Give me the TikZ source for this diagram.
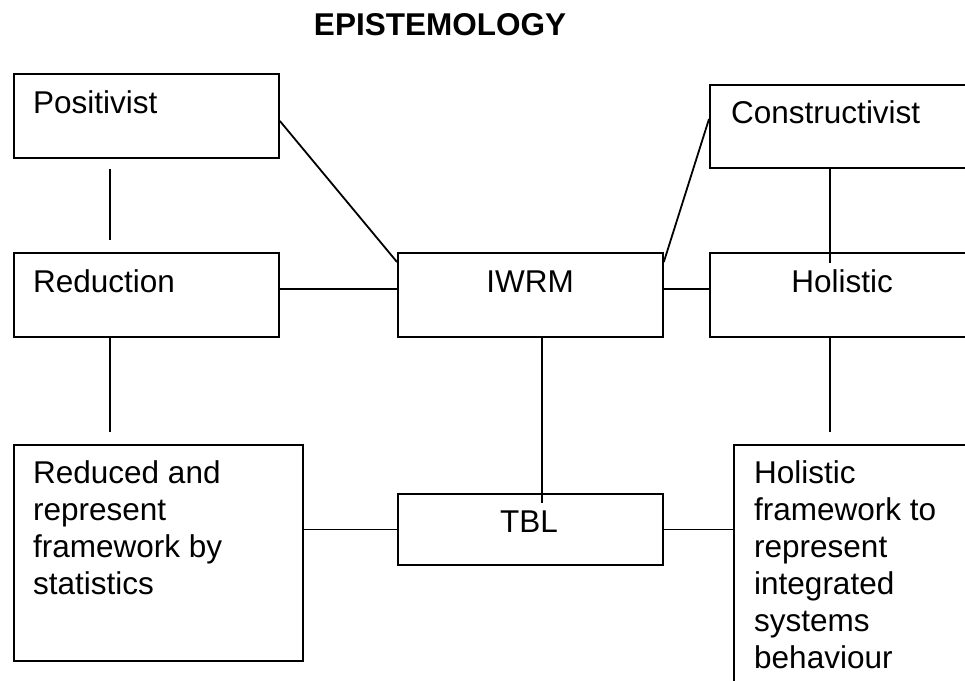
\documentclass[tikz,border=0pt]{standalone}
\usepackage{fontspec}
\setmainfont{Liberation Sans}
\begin{document}
\begin{tikzpicture}[x=1pt,y=-1pt,
  box/.style={draw=black, line width=1.8pt, fill=white, inner sep=0pt, anchor=north west},
  label/.style={inner sep=0pt, font=\fontsize{31.5}{37}\selectfont},
  link/.style={draw=black, line width=1.8pt}]
\useasboundingbox (0,0) rectangle (965,680);
\clip (0,0) rectangle (965,680);
\fill[white] (0,0) rectangle (965,680);

% title
\node[label, anchor=base, font=\fontsize{31.5}{37}\selectfont\bfseries] (title) at (440,35) {EPISTEMOLOGY};

% boxes
\node[box, minimum width=265, minimum height=84] (positivist) at (13,73) {};
\node[box, minimum width=265, minimum height=84] (reduction) at (13,252) {};
\node[box, minimum width=289, minimum height=216] (reduced) at (13,444) {};
\node[box, minimum width=265, minimum height=84] (iwrm) at (397,252) {};
\node[box, minimum width=265, minimum height=71] (tbl) at (397,493) {};
\node[box, minimum width=280, minimum height=83] (constructivist) at (709,84) {};
\node[box, minimum width=280, minimum height=84] (holistic) at (709,252) {};
\node[box, minimum width=260, minimum height=260] (holframe) at (733,444) {};

% texts
\node[label, anchor=base west] (positivist-t) at (33,113) {Positivist};
\node[label, anchor=base west] (reduction-t) at (33,292) {Reduction};
\node[label, anchor=base west] (reduced-t) at (33,483)
  {\begin{tabular}[t]{@{}l@{}}Reduced and\\represent\\framework by\\statistics\end{tabular}};
\node[label, anchor=base] (iwrm-t) at (530,292) {IWRM};
\node[label, anchor=base] (tbl-t) at (529,532) {TBL};
\node[label, anchor=base west] (constructivist-t) at (731,123) {Constructivist};
\node[label, anchor=base] (holistic-t) at (842,292) {Holistic};
\node[label, anchor=base west] (holframe-t) at (754,483)
  {\begin{tabular}[t]{@{}l@{}}Holistic\\framework to\\represent\\integrated\\systems\\behaviour\end{tabular}};

% connectors
\draw[link, shorten <=10pt, shorten >=12pt]
  ([xshift=-36.5pt]positivist.south) -- ([xshift=-36.5pt]reduction.north);
\draw[link, shorten >=12pt]
  ([xshift=-36.5pt]reduction.south) -- ([xshift=-48.5pt]reduced.north);
\draw[link] ([yshift=-5pt]positivist.east) -- ([yshift=-10pt]iwrm.north west);
\draw[link] ([yshift=6pt]reduction.east) -- ([yshift=6pt]iwrm.west);
\draw[link] ([yshift=-35pt]constructivist.north west) -- ([yshift=-10pt]iwrm.north east);
\draw[link] ([yshift=6pt]iwrm.east) -- ([yshift=6pt]holistic.west);
\draw[link, shorten >=-11pt]
  ([xshift=-20pt]constructivist.south) -- ([xshift=-20pt]holistic.north);
\draw[link, shorten >=12pt]
  ([xshift=-20pt]holistic.south) -- ([xshift=-34pt]holframe.north);
\draw[link, shorten >=-10pt]
  ([xshift=11.5pt]iwrm.south) -- ([xshift=11.5pt]tbl.north);
\draw[link] (reduced.east |- tbl.west) -- (tbl.west);
\draw[link] (tbl.east) -- (holframe.west |- tbl.east);
\end{tikzpicture}
\end{document}
